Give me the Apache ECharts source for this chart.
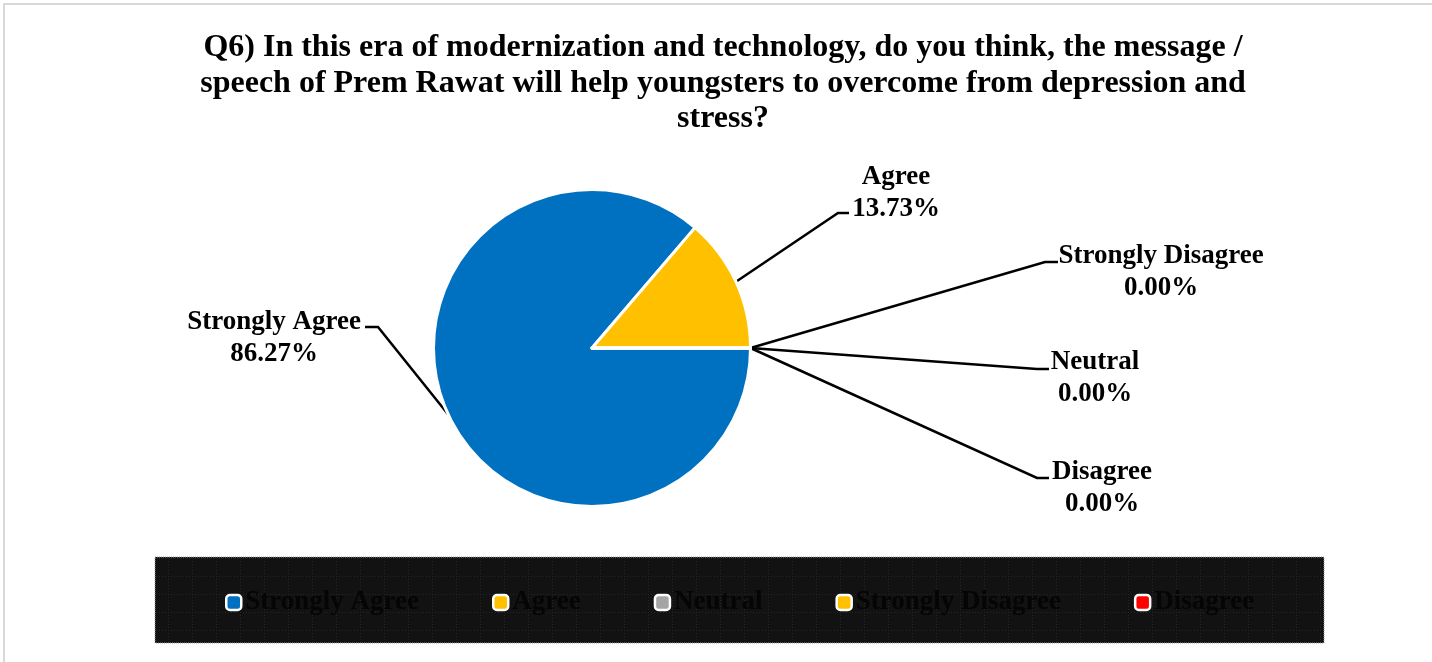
<!DOCTYPE html>
<html>
<head>
<meta charset="utf-8">
<script src="https://cdn.jsdelivr.net/npm/echarts@6/dist/echarts.min.js"></script>
<style>
  html, body { margin: 0; padding: 0; background: #fff; }
  #chart { width: 1432px; height: 662px; }
</style>
</head>
<body>
<div id="chart"></div>
<script>
// Survey answers and their share of respondents (%)
const categories = ['Strongly Agree', 'Agree', 'Neutral', 'Strongly Disagree', 'Disagree'];
const shares = [86.27, 13.73, 0, 0, 0];
const sliceColors = ['#0070C0', '#FFC000', '#A5A5A5', '#FFC000', '#FF0000'];

const titleText = 'Q6) In this era of modernization and technology, do you think, the message /\n' +
  'speech of Prem Rawat will help youngsters to overcome from depression and\n' +
  'stress?';

// Where each callout sits: label centre and the elbow of its leader line
const callouts = {
  'Strongly Agree':    { cx: 274,  cy: 338, elbow: [378, 327],  end: [365, 327] },
  'Agree':             { cx: 896,  cy: 193, elbow: [838, 213],  end: [849, 213] },
  'Strongly Disagree': { cx: 1161, cy: 272, elbow: [1045, 262], end: [1058, 262] },
  'Neutral':           { cx: 1095, cy: 378, elbow: [1037, 369], end: [1049, 369] },
  'Disagree':          { cx: 1102, cy: 488, elbow: [1037, 478], end: [1049, 478] }
};

const SERIF = '"Liberation Serif", "Times New Roman", serif';

// faint dotted grid used inside the legend band
function dottedTile() {
  const c = document.createElement('canvas');
  c.width = 24; c.height = 18;
  const g = c.getContext('2d');
  g.fillStyle = '#121212';
  g.fillRect(0, 0, 24, 18);
  g.fillStyle = '#262626';
  for (let x = 0; x < 24; x += 3) g.fillRect(x, 0, 1, 1);
  for (let y = 0; y < 18; y += 3) g.fillRect(0, y, 1, 1);
  return c;
}

const chart = echarts.init(document.getElementById('chart'), null, { renderer: 'canvas' });

const option = {
  backgroundColor: '#ffffff',
  animation: false,
  color: sliceColors,
  title: {
    text: titleText,
    left: 718,
    top: 25,
    textAlign: 'center',
    textStyle: {
      fontFamily: SERIF,
      fontWeight: 'bold',
      fontSize: 32,
      lineHeight: 35.5,
      color: '#000'
    }
  },
  graphic: [
    {
      type: 'rect',
      silent: true,
      z: -10,
      shape: { x: 4, y: 4, width: 1440, height: 670 },
      style: { fill: 'none', stroke: '#d9d9d9', lineWidth: 2 }
    },
    {
      type: 'rect',
      silent: true,
      z: -5,
      shape: { x: 155, y: 557, width: 1169, height: 86 },
      style: {
        fill: { image: dottedTile(), repeat: 'repeat' },
        stroke: '#9a9a9a',
        lineWidth: 1,
        lineDash: [1, 1]
      }
    }
  ],
  legend: {
    data: categories,
    left: 225,
    top: 589,
    padding: 0,
    itemGap: 73,
    itemWidth: 15,
    itemHeight: 15,
    icon: 'roundRect',
    itemStyle: { borderColor: '#ffffff', borderWidth: 2.5 },
    textStyle: {
      fontFamily: SERIF,
      fontWeight: 'bold',
      fontSize: 27,
      color: '#050505',
      padding: [0, 0, 0, -1]
    }
  },
  series: [
    {
      type: 'pie',
      center: [592, 348],
      radius: 158.5,
      startAngle: 0,
      clockwise: true,
      avoidLabelOverlap: false,
      stillShowZeroSum: true,
      emphasis: { disabled: true },
      itemStyle: { borderColor: '#ffffff', borderWidth: 3 },
      data: categories.map((name, i) => ({
        name: name,
        value: shares[i],
        itemStyle: { color: sliceColors[i] }
      })),
      label: {
        show: true,
        position: 'outside',
        formatter: p => p.name + '\n' + p.value.toFixed(2) + '%',
        fontFamily: SERIF,
        fontWeight: 'bold',
        fontSize: 27,
        lineHeight: 32,
        color: '#000',
        align: 'center'
      },
      labelLine: {
        show: true,
        length: 20,
        length2: 10,
        smooth: false,
        lineStyle: { color: '#000', width: 2.5 }
      },
      labelLayout: function (params) {
        const name = categories[params.dataIndex];
        const c = callouts[name];
        const anchor = params.labelLinePoints ? params.labelLinePoints[0] : c.elbow;
        return {
          x: c.cx,
          y: c.cy,
          align: 'center',
          verticalAlign: 'middle',
          labelLinePoints: [anchor, c.elbow, c.end]
        };
      }
    }
  ]
};

chart.setOption(option);
</script>
</body>
</html>
